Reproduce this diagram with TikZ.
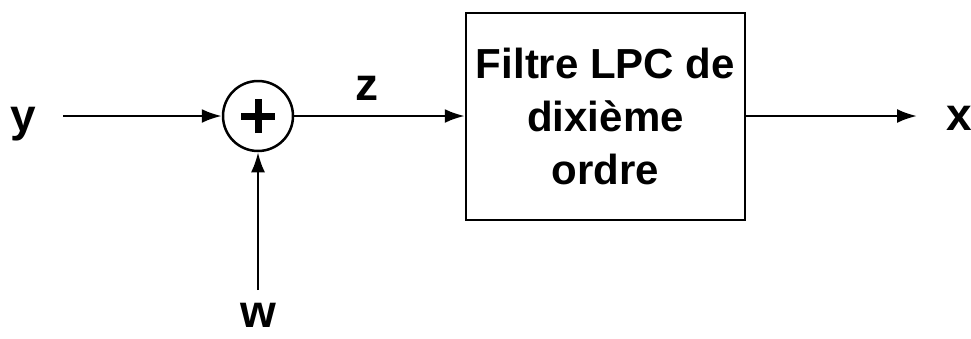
\documentclass[tikz,border=0pt]{standalone}
\usepackage{fontspec}
\setmainfont{Liberation Sans}
\usepackage{tikz}
\usetikzlibrary{arrows.meta}
\tikzset{every node/.style={font=\bfseries}}
\colorlet{linecol}{black}
\colorlet{labelcol}{black}
\tikzset{
  sig/.style={line width=2.5pt, linecol, -{Latex[length=20pt, width=14pt]}},
  siglabel/.style={font=\fontsize{46}{50}\selectfont\bfseries, text=labelcol, inner sep=0pt},
  adder/.style={circle, draw=linecol, line width=2.5pt, minimum size=70pt, inner sep=0pt},
  filterbox/.style={rectangle, draw=linecol, line width=2.5pt, minimum width=279pt,
    minimum height=207pt, align=center, inner sep=0pt,
    font=\fontsize{42}{53}\selectfont\bfseries}
}

\begin{document}
\begin{tikzpicture}[x=1pt, y=-1pt]

  % Canvas.
  \useasboundingbox (0,0) rectangle (971,338);

  % Blocks.
  \node[adder] (sum) at (258,116) {};
  \node[filterbox] (filt) at (605.5,116.5) {Filtre LPC de\\dixième\\ordre};

  % Plus sign in the adder.
  \draw[line width=7pt, linecol] ([xshift=-17pt]sum.center) -- ([xshift=17pt]sum.center);
  \draw[line width=7pt, linecol] ([yshift=-17pt]sum.center) -- ([yshift=17pt]sum.center);

  % Signal labels.
  \node[siglabel, anchor=base] (ylab) at (23,131) {y};
  \node[siglabel, anchor=base] (wlab) at (258,327) {w};
  \node[siglabel, anchor=base] (zlab) at (367,100) {z};
  \node[siglabel, anchor=base] (xlab) at (959,130) {x};

  % Free ends of the connectors.
  \coordinate (yin) at (63,116);
  \coordinate (win) at (258,290);
  \coordinate (xout) at (917,116);

  % Connectors.
  \draw[sig] (yin) -- (sum.west);
  \draw[sig] (win) -- (sum.south);
  \draw[sig] (sum.east) -- (filt.west |- sum.east);
  \draw[sig] (filt.east |- xout) -- (xout);

\end{tikzpicture}
\end{document}
